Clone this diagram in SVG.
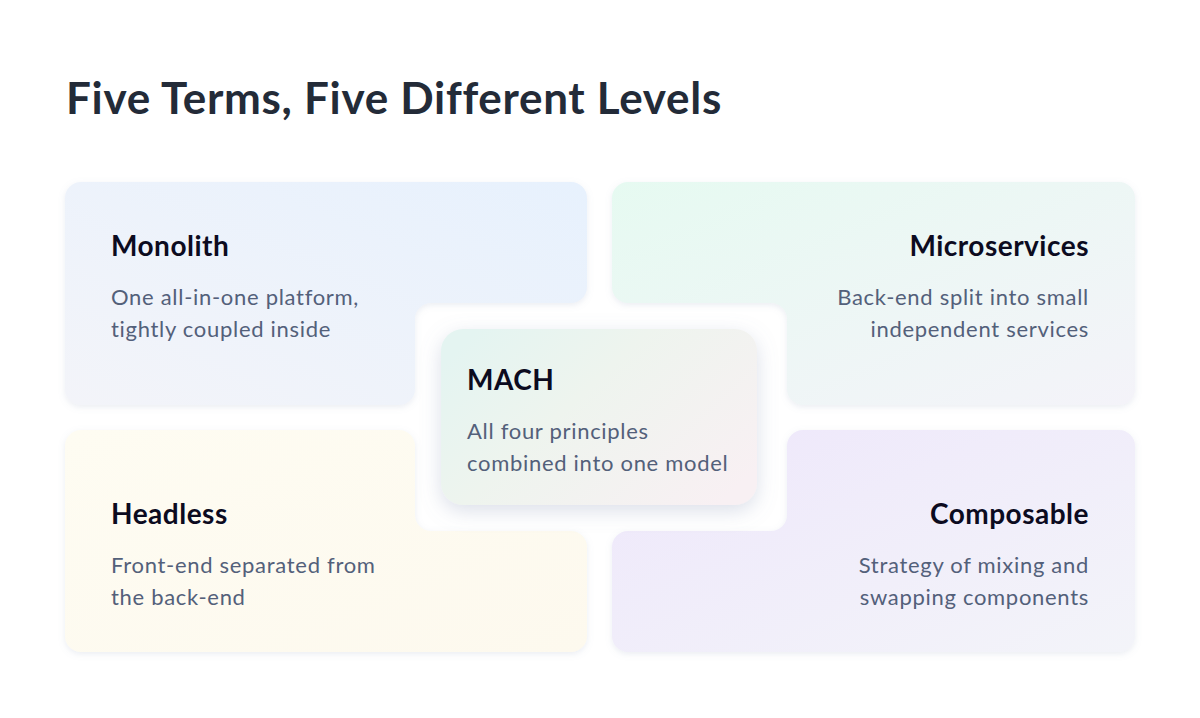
<svg xmlns="http://www.w3.org/2000/svg" width="1200" height="718" viewBox="0 0 1200 718">
  <style>
    .h1 { font-family: Lato, "Noto Sans", sans-serif; font-weight: 700; font-size: 44px; letter-spacing: 0.7px; fill: #232b38; }
    .t { font-family: Lato, "Noto Sans", sans-serif; font-weight: 700; font-size: 28px; letter-spacing: 0.5px; fill: #0c0b1f; }
    .b { font-family: Lato, "Noto Sans", sans-serif; font-weight: 400; font-size: 22px; letter-spacing: 0.7px; fill: #53607a; }
    .r { text-anchor: end; }
    .panel { filter: url(#sh); }
  </style>
  <defs>
    <filter id="sh" x="-10%" y="-10%" width="120%" height="130%">
      <feDropShadow dx="0" dy="2" stdDeviation="3" flood-color="#8a9ab8" flood-opacity="0.18"/>
    </filter>
    <filter id="sh2" x="-20%" y="-20%" width="140%" height="150%">
      <feDropShadow dx="0" dy="6" stdDeviation="10" flood-color="#7e8fb0" flood-opacity="0.28"/>
    </filter>
    <linearGradient id="gMono" x1="0" y1="1" x2="1" y2="0">
      <stop offset="0" stop-color="#f3f4f9"/>
      <stop offset="1" stop-color="#e7f1fd"/>
    </linearGradient>
    <linearGradient id="gMicro" x1="0" y1="0" x2="1" y2="1">
      <stop offset="0" stop-color="#e6faf1"/>
      <stop offset="1" stop-color="#f4f3f9"/>
    </linearGradient>
    <linearGradient id="gHead" x1="0" y1="0" x2="1" y2="1">
      <stop offset="0" stop-color="#fefcf2"/>
      <stop offset="1" stop-color="#fdf9ee"/>
    </linearGradient>
    <linearGradient id="gComp" x1="0" y1="0" x2="1" y2="1">
      <stop offset="0" stop-color="#eee7fb"/>
      <stop offset="1" stop-color="#f3f4f9"/>
    </linearGradient>
    <linearGradient id="gMach" x1="0" y1="0.2" x2="1" y2="0.8">
      <stop offset="0" stop-color="#e4f4f1"/>
      <stop offset="0.4" stop-color="#eef4ee"/>
      <stop offset="1" stop-color="#f8f0f3"/>
    </linearGradient>
  </defs>

  <rect x="0" y="0" width="1200" height="718" fill="#ffffff"/>

  <text class="h1" x="66" y="114">Five Terms, Five Different Levels</text>

  <g id="monolith">
    <path class="panel" fill="url(#gMono)" d="M81,182 H571 A16,16 0 0 1 587,198 V287 A16,16 0 0 1 571,303 H431 A16,16 0 0 0 415,319 V389 A16,16 0 0 1 399,405 H81 A16,16 0 0 1 65,389 V198 A16,16 0 0 1 81,182 Z"/>
    <text class="t" x="111" y="256">Monolith</text>
    <text class="b" x="111" y="305">One all-in-one platform,</text>
    <text class="b" x="111" y="337">tightly coupled inside</text>
  </g>

  <g id="microservices">
    <path class="panel" fill="url(#gMicro)" d="M628,182 H1119 A16,16 0 0 1 1135,198 V389 A16,16 0 0 1 1119,405 H803 A16,16 0 0 1 787,389 V319 A16,16 0 0 0 771,303 H628 A16,16 0 0 1 612,287 V198 A16,16 0 0 1 628,182 Z"/>
    <text class="t r" x="1089" y="256">Microservices</text>
    <text class="b r" x="1089" y="305">Back-end split into small</text>
    <text class="b r" x="1089" y="337">independent services</text>
  </g>

  <g id="headless">
    <path class="panel" fill="url(#gHead)" d="M81,430 H399 A16,16 0 0 1 415,446 V515 A16,16 0 0 0 431,531 H571 A16,16 0 0 1 587,547 V636 A16,16 0 0 1 571,652 H81 A16,16 0 0 1 65,636 V446 A16,16 0 0 1 81,430 Z"/>
    <text class="t" x="111" y="524">Headless</text>
    <text class="b" x="111" y="573">Front-end separated from</text>
    <text class="b" x="111" y="605">the back-end</text>
  </g>

  <g id="composable">
    <path class="panel" fill="url(#gComp)" d="M803,430 H1119 A16,16 0 0 1 1135,446 V636 A16,16 0 0 1 1119,652 H628 A16,16 0 0 1 612,636 V547 A16,16 0 0 1 628,531 H771 A16,16 0 0 0 787,515 V446 A16,16 0 0 1 803,430 Z"/>
    <text class="t r" x="1089" y="524">Composable</text>
    <text class="b r" x="1089" y="573">Strategy of mixing and</text>
    <text class="b r" x="1089" y="605">swapping components</text>
  </g>

  <g id="mach">
    <rect x="441" y="329" width="316" height="176" rx="22" fill="url(#gMach)" filter="url(#sh2)"/>
    <text class="t" x="467" y="390">MACH</text>
    <text class="b" x="467" y="439">All four principles</text>
    <text class="b" x="467" y="471">combined into one model</text>
  </g>

  <g id="connectors"/>
</svg>
